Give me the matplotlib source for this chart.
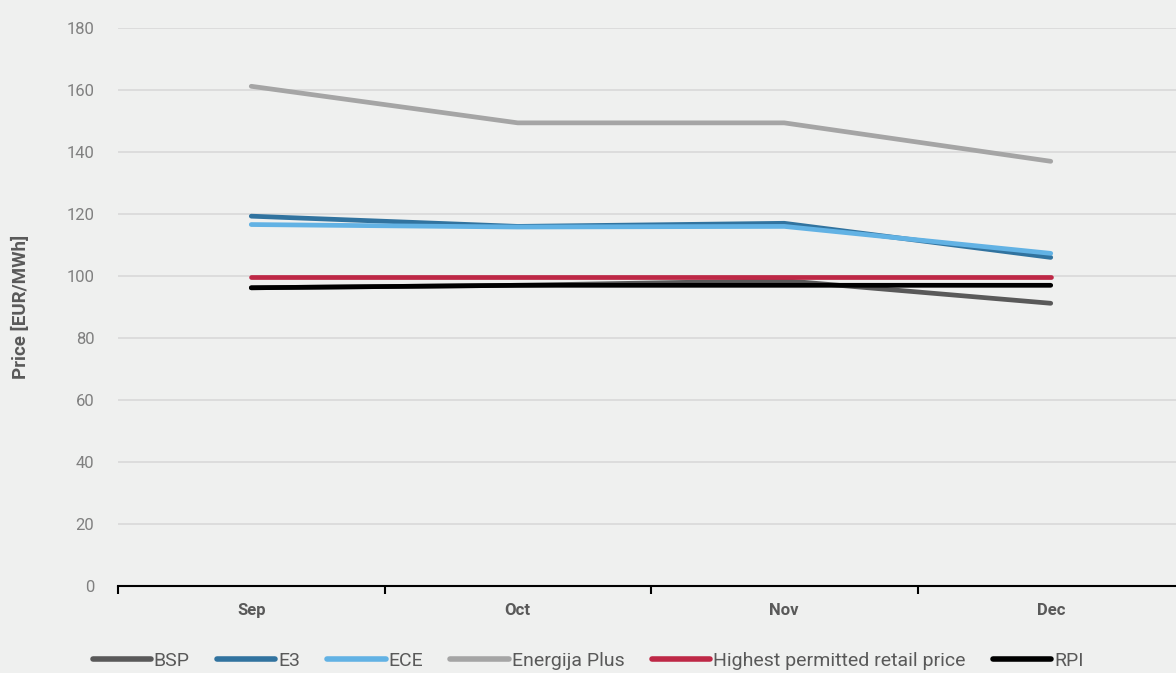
import matplotlib
matplotlib.use("Agg")
import matplotlib.pyplot as plt

months = ["Sep", "Oct", "Nov", "Dec"]
bsp = [96.2, 97.0, 98.5, 91.2]
e3 = [119.3, 116.0, 117.0, 106.0]
ece = [116.6, 115.8, 116.0, 107.3]
energija = [161.2, 149.4, 149.4, 137.0]
highest = [99.6, 99.6, 99.6, 99.6]
rpi = [96.2, 97.0, 97.0, 97.0]

series = [
    ("BSP", bsp, "#595959"),
    ("E3", e3, "#31739F"),
    ("ECE", ece, "#62B2E4"),
    ("Energija Plus", energija, "#A5A5A5"),
    ("Highest permitted retail price", highest, "#BE2846"),
    ("RPI", rpi, "#000000"),
]

bg = "#EFF0EF"
plt.rcParams['font.family'] = ['Roboto', 'DejaVu Sans']
fig = plt.figure(figsize=(11.76, 6.73), dpi=100, facecolor=bg)
ax = fig.add_axes([118/1176, 1-586/673, 1066/1176, (586-28)/673])
ax.set_facecolor(bg)

x = list(range(len(months)))
for name, vals, col in series:
    ax.plot(x, vals, color=col, lw=3.4, solid_capstyle='round', solid_joinstyle='round', label=name, zorder=3)

ax.set_xlim(-0.5, 3.5)
ax.set_ylim(0, 180)
ax.set_yticks(range(0, 181, 20))
ax.grid(axis='y', color='#D9D9D9', lw=1.2, zorder=0)
ax.set_axisbelow(True)
for s in ['top', 'right', 'left']:
    ax.spines[s].set_visible(False)
ax.spines['bottom'].set_color('black')
ax.spines['bottom'].set_linewidth(1.5)
ax.spines['bottom'].set_zorder(4)

ax.set_xticks([-0.5, 0.5, 1.5, 2.5, 3.5])
ax.set_xticklabels([])
ax.set_xticks(x, minor=True)
ax.set_xticklabels(months, minor=True, fontsize=12, fontweight='bold', color='#595959')
ax.tick_params(axis='x', which='major', length=6, width=1.5, color='black', direction='out')
ax.tick_params(axis='x', which='minor', length=0, pad=12)
ax.tick_params(axis='y', length=0, labelsize=12, labelcolor='#808080', pad=17)

ax.set_ylabel("Price [EUR/MWh]", fontsize=13.5, fontweight='bold', color='#595959', labelpad=26)

leg = fig.legend(loc='center', bbox_to_anchor=(0.5, 1-661/673), ncol=6, frameon=False,
                 fontsize=14, handlelength=3.0, handletextpad=0.15, columnspacing=1.4,
                 labelcolor='#595959')
for line in leg.get_lines():
    line.set_linewidth(4)
    line.set_solid_capstyle('round')

fig.savefig("out.png", dpi=100, facecolor=bg)
